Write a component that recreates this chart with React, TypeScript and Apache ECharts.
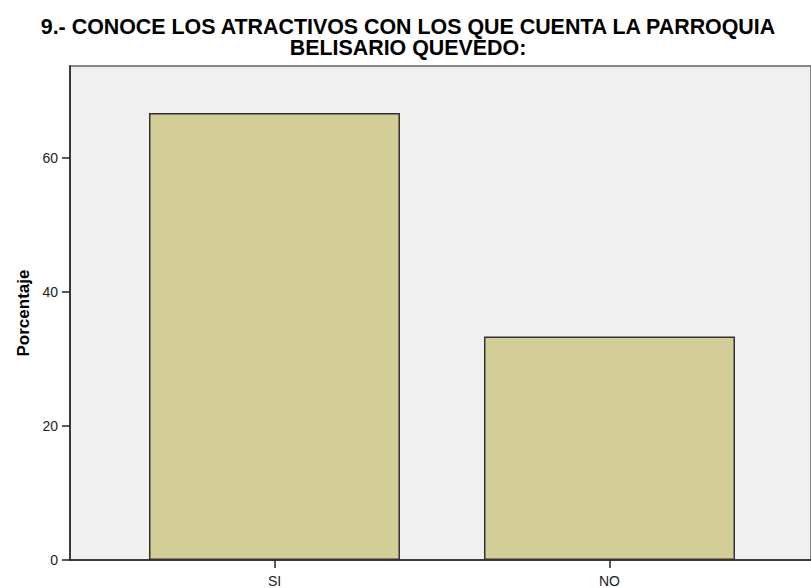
import React, { useEffect, useRef } from "react";
import * as echarts from "echarts";

const titleLines = ["9.- CONOCE LOS ATRACTIVOS CON LOS QUE CUENTA LA PARROQUIA", "BELISARIO QUEVEDO:"];
const categories = ["SI", "NO"];
const percentages = [66.67, 33.33];
const yTicks = [0, 20, 40, 60];
const yAxisName = "Porcentaje";

export default function App() {
  const ref = useRef<HTMLDivElement>(null);
  useEffect(() => {
    if (!ref.current) return;
    const chart = echarts.init(ref.current, null, { renderer: "svg" });
    const font = "'Liberation Sans', Arial, sans-serif";
    const catIdx = categories.map((_, i) => i);
    chart.setOption({
      animation: false,
      backgroundColor: "#ffffff",
      title: titleLines.map((t, i) => ({
        text: t,
        left: 408,
        textAlign: "center",
        top: 16 + i * 21.5,
        padding: 0,
        textStyle: {
          fontFamily: font,
          fontSize: 21.4,
          fontWeight: "bold",
          lineHeight: 21.5,
          color: "#000000",
        },
      })),
      grid: {
        left: 70,
        right: 0,
        top: 66,
        bottom: 23,
        show: true,
        backgroundColor: "#f0f0f0",
        borderColor: "#858585",
        borderWidth: 2,
        containLabel: false,
      },
      xAxis: {
        type: "value",
        min: -0.6104,
        max: 1.6015,
        axisLine: { show: true, onZero: false, lineStyle: { color: "#222", width: 1.5 } },
        axisTick: { show: true, customValues: catIdx, length: 8, lineStyle: { color: "#222", width: 1.5 } },
        axisLabel: {
          margin: 14,
          customValues: catIdx,
          formatter: (v: number) => categories[Math.round(v)] ?? "",
          fontFamily: font,
          fontSize: 14,
          color: "#222",
        },
        splitLine: { show: false },
      },
      yAxis: {
        type: "value",
        min: 0,
        max: 73.7,
        interval: 20,
        name: yAxisName,
        nameLocation: "middle",
        nameGap: 38,
        nameTextStyle: { fontFamily: font, fontSize: 17, fontWeight: "bold", color: "#000" },
        axisLine: { show: true, onZero: false, lineStyle: { color: "#222", width: 1.5 } },
        axisTick: { show: true, length: 8, customValues: yTicks, lineStyle: { color: "#222", width: 1.5 } },
        axisLabel: { margin: 12, customValues: yTicks, fontFamily: font, fontSize: 14, color: "#222" },
        splitLine: { show: false },
      },
      series: [
        {
          type: "bar",
          data: percentages.map((v, i) => [i, v]),
          barWidth: 251,
          itemStyle: { color: "#d3ce97", borderColor: "#333", borderWidth: 1.5 },
        },
      ],
    });
    return () => chart.dispose();
  }, []);
  return (
    <div
      ref={ref}
      style={{ position: "fixed", left: 0, top: 0, width: 811, height: 588, overflow: "hidden" }}
    />
  );
}
